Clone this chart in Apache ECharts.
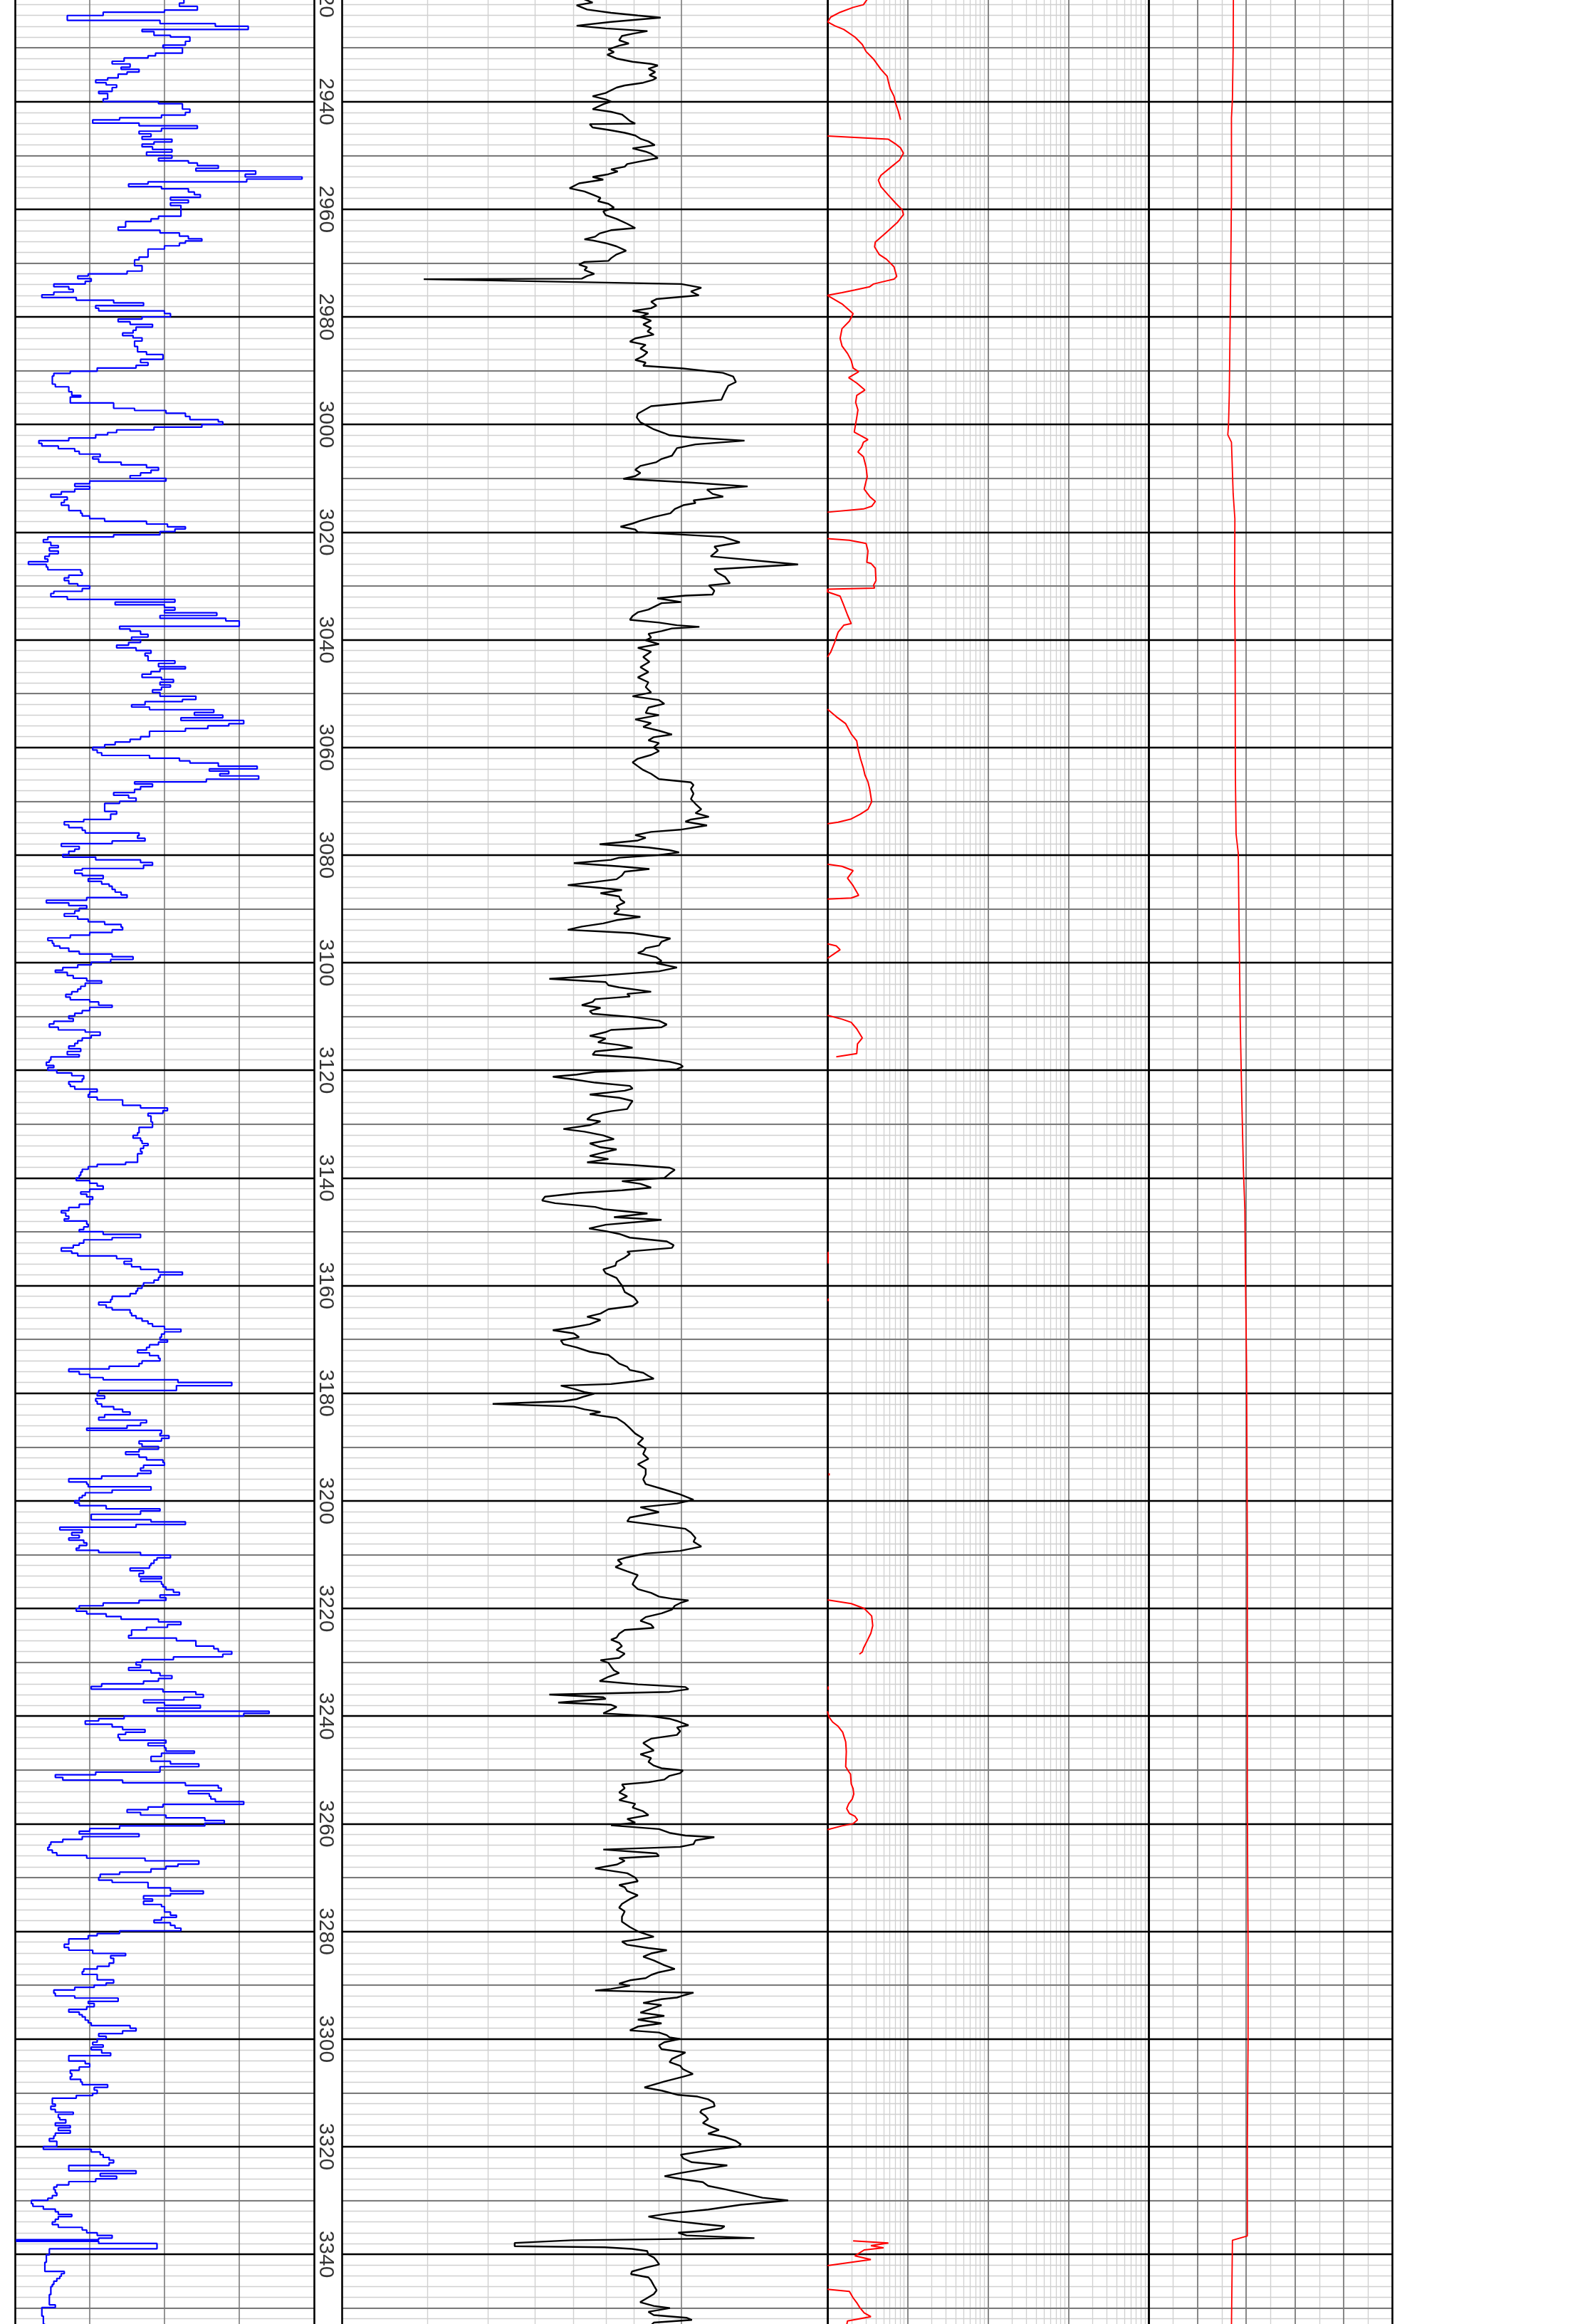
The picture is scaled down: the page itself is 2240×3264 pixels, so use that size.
<!DOCTYPE html>
<html>
<head>
<meta charset="utf-8">
<script src="https://cdn.jsdelivr.net/npm/echarts/dist/echarts.min.js"></script>
<style>html,body{margin:0;padding:0;background:#fff}#c{width:2240px;height:3264px}</style>
</head>
<body>
<div id="c"></div>
<script>
// ---------------- DATA ----------------
const DEPTH_MIN = 2920, DEPTH_MAX = 3360;
const DEPTH_LABELS = [2920,2940,2960,2980,3000,3020,3040,3060,3080,3100,3120,3140,3160,3180,3200,3220,3240,3260,3280,3300,3320,3340];

// Track 1 (blue, stepped) : depth of each step top and its value
const GR_DEPTH = [
2921.0,2921.7,2922.3,2923.0,2923.4,2924.0,2924.9,2925.5,2926.0,2926.6,
2927.0,2927.7,2928.0,2928.8,2929.5,2930.0,2931.0,2931.5,2931.9,2932.5,
2933.0,2933.6,2934.0,2934.5,2934.9,2935.6,2936.0,2936.5,2936.9,2937.4,
2938.1,2938.5,2939.5,2940.0,2940.4,2941.4,2942.0,2942.5,2943.0,2943.4,
2944.0,2944.5,2945.0,2945.5,2946.0,2946.5,2947.0,2947.5,2947.9,2948.4,
2948.9,2949.4,2950.0,2950.5,2951.0,2951.4,2951.9,2952.4,2952.9,2953.5,
2954.0,2954.4,2954.9,2955.3,2955.8,2956.2,2956.8,2957.3,2957.8,2958.3,
2958.8,2959.3,2961.3,2961.8,2962.3,2963.3,2963.9,2964.4,2965.0,2965.5,
2965.9,2966.3,2966.8,2967.4,2968.9,2969.4,2970.5,2971.5,2972.0,2972.4,
2972.9,2973.4,2973.9,2974.4,2974.9,2975.4,2975.9,2976.4,2976.9,2977.4,
2977.9,2978.4,2978.9,2979.4,2980.0,2980.4,2980.9,2981.4,2981.9,2982.5,
2983.0,2983.5,2983.9,2984.5,2985.5,2986.5,2987.0,2987.9,2988.5,2989.0,
2989.5,2990.1,2990.5,2991.0,2992.5,2993.0,2993.9,2994.6,2994.9,2996.0,
2997.0,2997.4,2997.9,2998.5,2999.1,2999.5,3000.0,3000.5,3001.0,3001.5,
3001.9,3002.5,3003.0,3003.5,3004.0,3004.5,3005.0,3005.5,3006.0,3006.4,
3007.0,3007.5,3008.0,3008.5,3009.0,3009.5,3010.0,3010.5,3011.0,3011.5,
3012.0,3012.5,3013.0,3013.5,3014.0,3014.5,3015.0,3016.0,3016.5,3017.0,
3017.5,3018.0,3018.5,3019.0,3019.4,3019.9,3020.5,3020.9,3021.4,3021.9,
3022.5,3022.9,3023.5,3024.0,3024.5,3025.0,3025.5,3026.0,3026.5,3027.0,
3027.5,3028.0,3028.5,3029.0,3029.6,3030.0,3030.5,3031.0,3031.4,3032.0,
3032.5,3033.0,3033.5,3034.0,3034.5,3035.0,3035.5,3036.0,3036.5,3037.5,
3038.0,3038.4,3039.0,3039.5,3040.0,3040.5,3041.0,3041.5,3042.0,3042.5,
3043.0,3043.9,3044.4,3045.0,3045.4,3045.9,3046.4,3047.0,3047.4,3047.9,
3048.4,3048.8,3049.3,3049.8,3050.5,3051.1,3051.5,3052.1,3052.5,3053.0,
3053.5,3054.0,3054.5,3055.0,3055.6,3056.0,3056.5,3057.0,3058.0,3058.5,
3059.0,3059.5,3060.0,3060.5,3061.0,3061.5,3062.0,3062.5,3062.9,3063.5,
3064.0,3064.4,3064.9,3065.3,3065.9,3066.4,3066.8,3067.3,3067.8,3068.4,
3068.9,3069.4,3070.0,3070.4,3071.9,3072.4,3073.4,3073.8,3074.4,3074.9,
3075.4,3075.9,3076.4,3076.9,3077.4,3077.9,3078.4,3078.9,3079.3,3079.9,
3080.4,3080.9,3081.4,3081.9,3082.5,3082.8,3083.4,3083.8,3084.4,3084.9,
3085.4,3085.8,3086.4,3086.9,3087.4,3087.9,3088.4,3088.9,3089.4,3089.9,
3090.4,3090.9,3091.4,3091.9,3092.4,3092.9,3093.4,3093.9,3094.4,3094.9,
3095.4,3095.9,3096.4,3096.9,3097.3,3097.9,3098.4,3098.9,3099.4,3099.9,
3100.4,3100.9,3101.4,3101.8,3102.4,3102.9,3103.4,3103.8,3104.4,3104.9,
3105.4,3105.9,3106.4,3106.9,3107.3,3107.9,3108.3,3108.9,3109.4,3109.9,
3110.4,3110.9,3111.4,3112.0,3112.5,3112.9,3113.5,3114.0,3114.5,3115.0,
3115.5,3116.0,3116.5,3117.1,3117.5,3118.1,3118.5,3119.1,3119.5,3120.0,
3120.5,3121.0,3121.6,3122.1,3122.6,3123.0,3123.5,3124.0,3124.5,3125.0,
3125.5,3126.5,3127.0,3127.5,3128.0,3128.5,3129.6,3130.6,3131.6,3132.1,
3132.6,3133.1,3133.6,3134.0,3134.5,3135.1,3135.5,3137.1,3137.5,3137.9,
3138.4,3138.9,3139.5,3140.0,3140.5,3141.0,3141.5,3142.1,3142.6,3143.0,
3143.5,3144.0,3144.9,3145.5,3146.1,3146.5,3147.1,3147.6,3148.0,3148.6,
3149.1,3149.6,3150.0,3150.5,3151.1,3151.5,3152.1,3152.5,3153.0,3153.6,
3154.0,3154.5,3155.0,3155.5,3156.0,3156.5,3157.0,3157.5,3158.0,3158.5,
3159.0,3159.5,3160.0,3160.5,3161.0,3161.5,3162.0,3162.6,3163.1,3163.6,
3164.1,3164.5,3165.1,3165.6,3166.1,3166.6,3167.1,3167.6,3168.1,3168.6,
3169.0,3169.6,3170.1,3170.5,3171.0,3171.5,3172.0,3172.5,3173.0,3173.5,
3174.0,3174.5,3175.0,3175.5,3176.0,3176.5,3177.1,3177.5,3178.0,3178.6,
3179.5,3180.0,3180.5,3181.0,3181.5,3182.0,3182.5,3183.0,3183.5,3184.0,
3184.5,3185.0,3185.5,3186.0,3186.5,3186.9,3187.5,3187.9,3188.4,3188.9,
3189.4,3189.9,3190.4,3190.9,3191.4,3191.9,3192.4,3192.9,3193.4,3193.9,
3194.4,3194.9,3195.4,3195.9,3196.5,3196.9,3197.4,3198.0,3198.5,3199.0,
3199.4,3200.0,3200.4,3200.9,3201.5,3201.9,3202.5,3203.5,3203.9,3204.4,
3204.9,3205.4,3205.9,3206.4,3206.9,3207.3,3207.8,3208.3,3208.8,3209.2,
3209.6,3210.1,3210.6,3211.0,3211.6,3212.0,3212.5,3213.0,3213.5,3214.1,
3214.5,3215.0,3215.5,3216.0,3216.5,3217.0,3217.5,3218.0,3218.5,3219.0,
3219.5,3220.0,3220.5,3221.0,3221.5,3222.0,3222.5,3223.0,3223.5,3224.0,
3225.0,3225.5,3226.0,3227.0,3227.5,3228.0,3228.5,3229.0,3229.5,3230.0,
3230.5,3231.0,3231.5,3232.0,3232.5,3233.0,3233.5,3234.0,3234.5,3235.0,
3235.5,3236.0,3236.5,3237.0,3237.5,3238.0,3238.5,3239.1,3239.5,3240.0,
3240.5,3240.9,3241.5,3242.0,3242.5,3243.0,3243.4,3244.0,3244.5,3245.0,
3245.5,3245.9,3246.5,3246.9,3247.5,3248.4,3248.9,3249.4,3250.4,3250.9,
3251.4,3251.9,3252.4,3252.9,3253.4,3253.9,3254.4,3254.9,3255.4,3255.9,
3256.4,3256.9,3257.4,3257.9,3258.4,3258.9,3259.4,3259.9,3260.4,3260.9,
3261.4,3261.9,3262.4,3262.9,3263.4,3263.9,3264.4,3264.9,3265.4,3265.9,
3266.4,3266.9,3267.5,3267.9,3268.4,3269.0,3269.4,3270.0,3270.5,3270.9,
3271.9,3272.5,3273.0,3273.4,3274.0,3274.4,3275.0,3275.4,3276.4,3277.0,
3277.4,3277.9,3278.4,3278.9,3279.4,3279.9,3280.4,3280.8,3281.4,3282.4,
3283.0,3283.5,3284.1,3284.5,3285.0,3285.9,3286.5,3287.0,3287.5,3288.0,
3289.0,3289.6,3290.0,3290.4,3290.9,3291.5,3292.0,3292.4,3293.0,3293.4,
3294.0,3294.5,3295.0,3295.5,3295.9,3296.5,3297.0,3297.5,3298.0,3298.5,
3299.0,3299.5,3300.0,3300.6,3301.1,3301.5,3302.0,3302.6,3303.1,3304.1,
3304.6,3305.2,3305.8,3306.4,3307.0,3307.5,3308.0,3308.5,3309.0,3309.5,
3310.1,3310.5,3311.0,3312.1,3312.5,3313.1,3313.6,3314.0,3314.6,3315.0,
3315.6,3316.1,3316.5,3317.0,3317.5,3318.0,3318.5,3319.0,3320.0,3320.5,
3321.0,3321.5,3322.0,3322.5,3323.0,3323.5,3324.5,3325.0,3325.5,3326.0,
3326.5,3327.1,3327.5,3328.0,3328.6,3329.1,3329.6,3330.0,3330.6,3331.1,
3331.6,3332.1,3332.6,3333.0,3333.5,3334.0,3334.5,3335.0,3335.5,3336.0,
3336.5,3337.0,3337.3,3337.6,3338.0,3339.0,3340.1,3341.5,3343.2,3343.6,
3344.1,3344.5,3345.0,3345.6,3346.0,3347.5,3349.4,3349.9,3351.5,3353.0];
const GR_VALUE = [
113,110,122,100,59,35,97,134,156,85,
93,104,117,114,99,112,94,89,73,65,
77,71,83,75,69,62,54,61,68,65,
56,62,59,96,112,117,114,98,70,52,
83,122,98,83,91,85,105,93,85,92,
105,88,105,96,116,122,136,121,161,154,
192,155,89,76,98,116,120,124,104,116,
104,111,96,91,74,69,97,110,116,125,
114,110,100,89,83,80,85,75,49,42,
51,47,26,36,39,26,18,41,66,86,
54,56,100,104,85,69,77,92,81,79,
72,79,85,80,82,88,99,84,89,81,
55,37,26,25,27,36,38,44,37,66,
80,101,114,117,136,139,125,93,68,62,
54,36,16,18,29,40,43,57,52,56,
71,88,96,91,84,77,101,50,40,50,
40,31,24,35,33,31,36,44,45,50,
60,88,102,114,107,97,66,22,19,24,
29,23,29,23,20,22,9,21,22,44,
45,36,33,36,42,50,45,26,24,35,
107,67,100,107,100,135,97,141,150,70,
77,84,89,78,84,76,68,81,91,87,
89,107,96,114,97,91,85,98,106,97,
104,98,92,97,121,112,87,78,90,133,
120,139,111,153,143,129,114,90,84,77,
67,60,52,55,58,90,110,117,136,162,
130,143,137,163,128,80,92,84,80,66,
76,81,70,60,68,64,46,33,36,45,
47,83,82,87,65,31,43,40,36,32,
54,84,92,86,45,40,45,59,49,58,
63,65,67,71,75,48,21,36,48,43,
40,33,42,49,60,71,72,65,50,37,
22,25,26,30,36,43,65,79,64,51,
42,32,27,35,39,48,58,47,44,42,
38,34,37,50,56,65,50,45,40,36,
39,26,23,29,47,57,51,45,42,40,
36,44,35,43,24,23,21,26,22,28,
38,46,45,36,37,40,55,50,49,55,
72,84,102,99,89,91,92,83,82,79,
84,85,89,86,84,85,82,74,55,49,
45,44,43,41,50,55,59,50,44,48,
52,50,43,36,31,34,36,33,48,49,
46,43,59,84,65,46,43,39,31,38,
42,68,78,73,78,84,96,112,97,96,
93,86,85,82,81,77,65,64,56,61,
65,77,78,81,85,89,92,100,111,100,
98,97,102,96,90,88,82,90,96,97,
85,83,63,36,43,50,59,109,145,108,
56,55,60,54,55,58,66,72,77,60,
56,88,84,75,48,98,97,103,98,83,
85,96,83,74,83,88,99,100,86,84,
91,82,58,36,48,49,91,65,47,45,
43,40,43,61,97,84,51,91,114,81,
30,45,38,43,36,46,48,43,41,56,
84,104,95,93,91,90,77,86,83,98,
84,98,99,101,106,110,97,101,83,59,
43,41,48,61,71,96,111,102,88,78,
76,108,121,133,136,145,139,106,85,81,
84,76,91,97,105,96,86,58,51,99,
121,126,113,86,100,124,95,170,153,73,
56,47,65,72,87,74,69,70,101,89,
100,101,120,98,91,104,123,97,54,27,
32,72,114,136,138,116,130,131,134,153,
99,89,75,84,101,127,140,127,70,50,
43,83,45,32,24,23,22,25,28,48,
87,123,109,101,91,70,57,56,65,89,
104,126,104,86,92,86,98,100,104,108,
98,93,104,107,111,70,55,49,36,33,
36,52,74,64,66,63,55,46,45,55,
66,61,53,40,26,27,40,69,49,53,
48,36,43,45,47,49,51,77,81,72,
56,61,55,52,59,51,58,64,36,47,
50,43,37,38,37,44,45,62,53,55,
52,41,25,27,24,27,39,29,30,34,
27,37,29,37,27,26,23,28,19,51,
57,59,63,66,63,36,81,57,68,54,
36,28,26,27,28,25,22,11,12,19,
27,29,38,29,27,25,29,45,48,55,
65,56,1,56,95,23,21,20,33,31,
30,28,26,25,24,23,27,18,19,20];

// Track 2 (black, log 2-20)
const RT_DEPTH = [
2921.0,2921.6,2922.1,2922.9,2923.5,2924.0,2924.4,2925.2,2925.9,2926.4,
2926.9,2927.4,2927.8,2928.6,2929.2,2929.6,2930.3,2930.8,2931.3,2932.0,
2932.6,2933.0,2933.3,2933.9,2934.5,2935.1,2935.6,2936.0,2936.5,2937.0,
2937.4,2938.0,2938.4,2939.0,2939.6,2940.0,2940.5,2941.4,2941.9,2942.4,
2943.0,2943.6,2944.1,2944.2,2944.8,2945.3,2945.8,2946.3,2946.9,2947.4,
2948.1,2948.7,2949.3,2949.7,2950.5,2951.2,2951.6,2952.1,2952.6,2953.0,
2953.5,2954.0,2954.5,2955.2,2956.1,2956.7,2957.3,2957.9,2958.5,2959.0,
2959.7,2960.4,2961.1,2961.8,2962.7,2963.5,2963.9,2964.5,2965.1,2965.6,
2965.8,2966.3,2966.9,2967.7,2968.4,2969.1,2969.6,2969.8,2970.3,2970.8,
2971.3,2972.0,2972.4,2972.9,2973.0,2973.9,2974.6,2975.3,2976.0,2976.7,
2977.2,2977.9,2978.4,2978.9,2979.4,2980.0,2980.7,2981.4,2982.1,2982.7,
2983.3,2984.0,2984.6,2985.2,2985.9,2986.6,2987.3,2988.0,2988.5,2989.1,
2989.6,2990.4,2991.1,2992.1,2992.8,2994.0,2995.4,2995.9,2996.6,2997.3,
2998.0,2998.7,2999.6,3000.1,3000.9,3001.6,3002.0,3002.4,3003.0,3003.7,
3004.4,3005.0,3005.8,3006.4,3007.0,3007.7,3008.4,3009.0,3009.6,3010.1,
3010.8,3011.5,3012.1,3012.9,3013.4,3014.1,3014.6,3015.0,3015.7,3016.5,
3017.2,3017.9,3018.4,3019.0,3019.5,3020.0,3020.5,3020.9,3021.9,3022.7,
3023.4,3024.5,3026.0,3026.9,3027.6,3028.3,3029.5,3029.9,3030.9,3031.6,
3031.8,3032.3,3033.0,3033.2,3034.4,3034.9,3035.6,3036.3,3036.8,3037.3,
3037.6,3037.9,3038.4,3038.9,3039.6,3040.1,3040.8,3041.5,3042.2,3043.2,
3044.1,3045.1,3046.0,3047.0,3047.9,3048.8,3049.8,3050.5,3051.2,3051.9,
3052.6,3053.6,3054.0,3054.8,3055.5,3056.2,3056.9,3057.6,3058.1,3058.7,
3059.2,3060.0,3060.7,3061.4,3062.1,3062.8,3063.5,3064.2,3064.9,3065.9,
3066.5,3067.0,3067.7,3068.6,3069.6,3070.5,3071.5,3072.2,3072.9,3073.4,
3073.8,3074.5,3075.3,3075.7,3076.3,3076.8,3077.3,3078.0,3078.6,3079.1,
3079.5,3080.0,3080.5,3080.9,3081.5,3082.1,3082.6,3083.1,3083.8,3084.5,
3085.0,3085.6,3086.1,3086.5,3087.1,3087.7,3088.3,3088.8,3089.5,3090.2,
3090.9,3091.5,3092.1,3092.7,3093.3,3093.9,3094.5,3095.2,3095.5,3096.1,
3096.8,3097.3,3097.8,3098.2,3099.0,3099.7,3100.1,3100.9,3101.6,3102.3,
3103.0,3103.6,3104.2,3104.6,3105.4,3105.8,3106.3,3106.8,3107.3,3107.9,
3108.4,3109.0,3109.5,3110.1,3110.8,3111.5,3112.0,3112.5,3112.9,3113.6,
3114.1,3114.8,3115.3,3115.8,3116.5,3117.1,3117.7,3118.4,3118.9,3119.3,
3119.8,3120.3,3120.8,3121.2,3121.7,3122.3,3122.9,3123.4,3123.8,3124.5,
3125.1,3125.7,3126.4,3127.2,3127.6,3128.3,3129.1,3129.5,3130.2,3130.9,
3131.4,3132.1,3132.8,3133.6,3134.3,3134.7,3135.4,3135.9,3136.5,3137.1,
3137.6,3138.1,3138.5,3139.2,3140.0,3140.6,3141.1,3141.8,3142.3,3142.8,
3143.5,3144.2,3144.7,3145.4,3145.8,3146.6,3147.3,3147.8,3148.7,3149.4,
3149.9,3150.4,3151.1,3151.8,3152.5,3153.0,3153.7,3154.1,3154.8,3155.6,
3156.3,3157.0,3157.7,3158.6,3159.3,3160.0,3161.2,3162.2,3163.1,3163.8,
3164.4,3165.2,3165.8,3166.4,3167.2,3167.8,3168.3,3168.9,3169.6,3170.2,
3170.9,3171.5,3172.3,3172.9,3173.7,3174.5,3175.1,3175.7,3176.2,3176.8,
3177.3,3177.8,3178.3,3178.6,3179.2,3179.8,3180.1,3180.6,3181.1,3181.5,
3182.0,3182.5,3183.0,3183.5,3183.9,3184.6,3185.6,3186.5,3187.5,3188.4,
3189.4,3190.3,3191.3,3192.2,3193.2,3194.1,3195.1,3196.0,3196.9,3197.9,
3198.8,3199.8,3200.5,3201.2,3202.1,3203.1,3203.8,3204.5,3205.2,3205.9,
3206.9,3207.6,3208.5,3209.3,3209.8,3210.5,3211.0,3211.7,3212.3,3213.1,
3213.8,3214.5,3215.5,3216.4,3217.1,3217.8,3218.2,3218.5,3219.0,3219.5,
3220.2,3220.9,3221.6,3222.3,3223.0,3223.6,3224.0,3224.7,3225.4,3225.8,
3226.4,3227.0,3227.7,3228.4,3229.2,3229.6,3230.1,3230.8,3231.5,3232.0,
3232.7,3233.5,3234.1,3234.6,3235.0,3235.5,3236.0,3236.5,3236.8,3237.5,
3237.9,3238.3,3239.5,3240.0,3240.5,3240.9,3241.7,3242.1,3242.8,3243.5,
3244.2,3245.0,3245.7,3246.4,3247.1,3247.8,3248.5,3249.2,3249.7,3250.1,
3250.6,3251.1,3251.8,3252.3,3252.7,3253.4,3254.2,3254.9,3255.6,3256.3,
3257.0,3257.7,3258.4,3259.1,3259.8,3260.3,3261.0,3261.7,3262.2,3262.5,
3263.1,3263.8,3264.3,3264.8,3265.5,3266.0,3266.4,3266.9,3267.6,3268.3,
3269.2,3270.0,3270.7,3271.4,3271.8,3272.5,3273.3,3274.0,3274.9,3275.6,
3276.3,3277.3,3278.2,3279.2,3280.0,3280.5,3281.0,3281.5,3281.9,3282.5,
3283.1,3283.5,3284.1,3284.7,3285.4,3286.3,3287.0,3287.6,3288.1,3288.7,
3289.1,3289.7,3290.1,3290.7,3291.0,3291.4,3291.8,3292.3,3292.6,3293.3,
3293.7,3294.4,3295.1,3295.7,3296.4,3297.1,3297.7,3298.4,3298.8,3299.3,
3299.7,3300.0,3300.6,3301.2,3301.9,3302.5,3303.0,3303.7,3304.3,3305.0,
3305.6,3306.5,3307.0,3307.9,3309.0,3309.6,3310.4,3310.7,3311.2,3311.8,
3312.5,3313.2,3313.6,3314.3,3314.9,3315.6,3316.3,3316.9,3317.6,3318.2,
3318.9,3319.6,3320.0,3320.7,3321.5,3322.2,3322.9,3323.5,3324.2,3324.9,
3325.5,3326.0,3326.6,3327.3,3327.9,3328.8,3329.5,3330.0,3330.8,3331.7,
3332.4,3333.0,3333.5,3333.9,3334.4,3334.8,3335.2,3335.7,3336.0,3336.5,
3337.0,3337.4,3337.9,3338.5,3338.7,3339.0,3339.4,3340.1,3340.6,3341.2,
3341.9,3342.5,3343.2,3343.7,3344.3,3344.9,3345.8,3346.7,3347.4,3348.3,
3348.9,3349.6,3350.0,3350.7,3351.3,3351.8,3352.2,3352.7,3353.5];
const RT_VALUE = [
6.32,6.57,6.09,6.40,7.17,8.14,9.07,7.17,6.09,6.99,
8.52,7.94,7.55,7.45,7.80,7.45,7.08,7.27,7.04,7.36,
7.94,8.67,8.95,8.56,8.84,8.60,8.89,8.73,8.35,7.65,
7.36,7.13,6.99,6.57,6.99,7.17,6.91,6.57,7.17,7.55,
7.70,7.84,8.04,6.48,6.57,7.13,7.65,8.04,8.24,8.56,
8.82,7.94,8.45,8.67,8.95,8.14,7.74,7.65,7.17,7.40,
7.08,6.57,6.91,6.16,5.89,6.32,6.57,6.82,6.74,7.08,
7.27,6.91,6.99,7.36,7.74,8.04,7.17,6.79,6.65,6.32,
6.57,6.99,7.36,7.70,7.36,7.17,7.08,6.32,6.16,6.40,
6.32,6.62,6.40,6.24,2.95,10.0,11.0,10.47,10.87,8.89,
8.67,8.89,8.67,7.94,8.56,8.24,8.67,8.35,8.67,8.52,
8.78,8.04,7.84,8.45,8.24,8.52,8.35,8.04,8.45,8.35,
10.08,12.18,12.8,12.96,12.5,12.3,12.1,10.47,8.67,8.40,
8.14,8.10,8.24,8.45,8.78,9.23,9.46,10.47,13.5,10.7,
9.8,9.7,9.57,9.11,8.89,8.24,8.04,8.24,8.04,7.6,
10.47,13.7,11.3,11.6,12.2,10.6,10.7,10.1,9.7,9.5,
8.78,8.24,7.94,7.5,8.04,8.14,10.2,12.2,13.2,11.7,
11.9,11.5,17.4,11.7,11.9,12.3,12.6,11.4,11.7,11.6,
10.2,8.93,10.0,9.11,8.56,8.14,7.94,7.84,9.0,9.8,
10.9,9.57,9.11,8.56,8.67,8.45,9.0,8.14,8.67,8.35,
8.6,8.24,8.56,8.14,8.56,8.45,8.67,7.94,9.0,9.23,
8.56,8.45,9.0,8.04,8.67,8.35,9.0,9.57,8.78,8.56,
9.0,8.78,9.0,8.67,8.14,7.94,8.14,8.35,8.67,9.0,
10.47,10.6,10.47,10.6,10.47,10.7,11.0,10.7,11.4,10.47,
10.2,11.3,9.95,8.67,8.04,8.45,8.14,6.79,8.56,9.46,
9.9,9.0,7.45,7.17,6.01,7.45,8.6,7.65,7.55,7.36,
6.65,5.84,6.82,7.55,6.82,7.45,7.5,7.65,7.36,7.45,
7.27,8.24,7.36,6.91,6.24,5.84,7.94,9.0,9.5,9.11,
9.0,8.45,8.35,8.14,8.89,9.11,8.89,9.8,9.0,7.08,
5.35,6.99,7.08,7.45,8.67,7.74,7.84,6.65,6.57,6.24,
6.82,6.48,6.57,7.94,9.0,9.34,9.11,7.17,6.99,6.48,
6.99,6.74,7.45,7.94,6.65,6.57,8.14,9.46,9.95,10.08,
9.8,6.65,6.09,5.44,6.01,6.65,7.84,7.94,7.65,6.48,
7.45,7.94,7.84,7.74,7.17,6.57,6.4,6.82,6.48,5.72,
6.32,6.91,7.27,6.48,6.82,7.36,6.82,6.48,7.08,6.4,
7.94,9.46,9.7,9.46,9.23,7.55,8.24,8.67,7.55,6.16,
5.24,5.17,5.5,6.65,6.91,8.52,7.27,9.11,6.99,6.46,
6.99,7.45,7.84,9.34,9.65,9.57,7.74,7.84,7.65,7.36,
7.32,6.91,6.99,7.36,7.45,7.55,7.65,8.0,8.14,7.94,
7.08,6.82,6.4,6.82,6.48,5.94,5.44,6.01,6.16,5.65,
5.72,6.09,6.48,7.08,7.27,7.45,7.74,7.84,8.35,8.56,
8.78,8.04,7.17,5.65,6.01,6.32,6.62,6.32,6.09,5.72,
4.09,6.01,6.32,6.82,6.48,7.36,7.65,7.84,8.04,8.35,
8.14,8.45,8.35,8.56,8.14,8.45,8.45,8.35,8.45,9.23,
9.95,10.6,9.8,8.24,9.0,7.84,7.74,8.89,10.2,10.47,
10.7,10.6,11.0,9.95,8.45,7.74,7.4,7.55,7.32,7.74,
8.14,8.04,7.94,8.14,8.67,9.0,9.57,10.35,9.95,9.7,
9.57,9.11,8.45,8.24,8.67,8.78,7.65,7.45,7.36,7.17,
7.45,7.55,7.36,7.65,7.45,6.82,7.08,7.17,7.27,7.45,
7.08,6.79,8.14,10.2,10.35,9.46,5.35,6.91,6.99,5.58,
7.17,7.36,6.91,8.67,9.46,9.8,10.35,9.8,9.95,9.8,
8.67,8.35,8.56,8.78,8.24,8.67,8.56,8.78,9.11,10.08,
9.95,9.46,9.23,8.56,7.55,7.65,7.45,7.74,7.45,8.04,
7.94,8.35,8.56,7.74,8.04,7.17,9.0,9.46,10.2,11.7,
10.7,10.6,9.95,6.91,8.89,9.0,7.45,7.65,7.36,6.65,
7.74,8.04,8.14,7.45,7.65,7.74,8.14,7.84,7.55,7.45,
7.65,7.55,7.55,7.84,8.14,8.45,8.78,8.14,7.55,7.74,
8.56,9.34,8.67,8.35,8.78,9.23,9.7,9.0,8.67,8.45,
7.84,7.45,7.84,7.17,6.65,10.6,10.2,9.8,9.11,8.35,
9.11,8.67,8.24,9.23,8.14,9.11,8.14,7.84,9.0,9.34,
9.46,9.95,9.23,9.0,9.11,10.2,9.95,9.57,9.46,9.95,
10.08,10.57,10.1,9.24,8.4,9.12,9.86,10.8,11.36,11.66,
11.72,11.02,10.94,11.22,11.36,11.08,11.51,11.96,11.36,12.28,
12.93,13.27,13.1,11.36,9.98,10.1,10.52,12.44,11.08,9.98,
9.24,9.98,11.08,11.36,12.28,13.6,14.7,16.6,13.27,11.36,
9.48,8.56,9.12,9.86,11.08,12.28,12.1,11.08,9.86,10.25,
14.15,5.96,4.54,4.54,6.96,7.92,8.51,8.56,8.78,8.9,
9.01,8.45,7.92,7.88,8.56,8.67,8.78,8.9,8.78,8.45,
8.23,8.78,9.48,8.56,8.78,10.25,10.52,8.78,8.6];

// Track 3 (red, log 1-10000); null = no reading (gap)
const RX_DEPTH = [
2921.0,2922.0,2922.5,2923.4,2924.3,2925.2,2925.9,2926.6,2928.0,2929.4,2930.7,2932.1,2934.0,2935.3,2936.3,2937.6,2939.0,2940.4,2941.8,2943.4,2945.0,
2946.4,2947.0,2947.9,2948.6,2949.6,2950.9,2952.3,2953.7,2954.6,2955.8,2957.4,2958.9,2960.1,2961.0,2962.4,2964.3,2966.1,2967.0,2968.4,2969.3,2970.7,2972.5,2973.0,2973.4,2973.9,2974.4,2975.0,2975.5,2976.0,
2977.6,2979.4,2980.8,2982.2,2984.0,2985.4,2986.8,2988.1,2989.5,2990.2,2991.3,2992.3,2993.6,2994.6,2995.9,2997.3,2998.7,3001.4,3002.8,3003.3,3004.2,3005.1,3006.0,3007.9,3009.7,3012.0,3013.4,3014.3,3015.2,3015.7,3016.3,3018.0,
3021.2,3021.5,3022.1,3023.5,3025.6,3025.8,3026.7,3029.0,3029.9,3030.4,3030.6,3031.1,3031.9,3033.6,3035.4,3037.0,3037.3,3038.6,3040.5,3042.3,3043.2,3045.0,
3052.9,3054.3,3055.6,3057.5,3058.8,3060.2,3062.1,3063.9,3065.1,3066.4,3067.8,3070.1,3071.5,3072.4,3073.3,3073.9,3074.2,3078.0,
3081.7,3082.1,3082.9,3084.3,3085.7,3087.5,3088.0,3088.2,3092.0,
3096.5,3096.9,3097.6,3098.3,3099.2,3104.0,
3109.8,3110.5,3111.1,3112.3,3114.0,3115.1,3116.9,3117.5,3130.0,
3153.7,3155.9,3158.0,3162.4,3162.9,3180.0,3194.9,3195.3,3200.0,
3218.4,3219.1,3220.0,3221.4,3223.2,3224.6,3226.0,3227.4,3228.1,3228.5,3230.0,
3234.5,3235.1,3237.0,
3239.1,3240.2,3241.1,3241.9,3243.0,3244.8,3246.6,3249.4,3250.3,3250.8,3252.6,3253.5,3254.5,3255.4,3256.3,3257.2,3258.1,3258.6,3259.3,3260.0,3260.4,3261.1,3300.0,
3337.5,3337.9,3338.4,3338.8,3339.2,3340.3,3341.0,3342.1,3344.0,
3346.5,3346.9,3348.1,3349.0,3349.9,3350.9,3351.6,3352.4,3353.5];
const RX_VALUE = [
3.13,2.81,2.09,1.44,1.10,1.01,1.23,1.60,2.20,2.72,3.03,3.75,4.64,5.55,5.75,6.05,6.75,7.1,7.65,8.15,null,
1.0,5.75,7.1,8.15,8.85,7.9,6.05,4.64,4.31,4.64,5.75,7.1,8.55,8.85,7.5,5.45,3.95,3.87,4.41,5.45,6.75,7.3,6.75,5.15,3.75,3.37,2.2,1.52,1.0,
1.52,2.09,1.88,1.52,1.44,1.52,1.78,1.98,2.09,2.45,1.84,2.32,2.93,2.32,2.25,2.4,2.32,2.16,3.2,2.81,2.67,2.4,2.81,3.03,3.13,2.87,3.37,3.95,3.56,2.81,1.0,null,
1.0,1.88,3.03,3.2,3.1,3.48,3.95,4.03,3.75,3.87,1.0,1.0,1.44,1.6,1.78,1.98,1.6,1.36,1.23,1.10,1.0,null,
1.0,1.29,1.69,1.98,2.32,2.4,2.58,2.81,2.93,3.2,3.37,3.56,3.2,2.58,1.98,1.36,1.0,null,
1.0,1.52,2.09,1.78,2.09,2.45,1.98,1.0,null,
1.0,1.29,1.44,1.23,1.0,null,
1.0,1.52,1.98,2.32,2.72,2.37,2.32,1.29,null,
1.02,1.02,null,1.02,1.02,null,1.05,1.05,null,
1.0,1.98,2.87,3.56,3.67,3.48,3.13,2.81,2.72,2.5,null,
1.02,1.02,null,
1.0,1.05,1.16,1.36,1.55,1.69,1.72,1.69,1.84,1.94,1.98,2.09,2.13,2.04,1.84,1.74,1.88,2.2,2.37,2.09,1.52,1.0,null,
2.09,5.75,3.48,5.0,2.87,2.2,3.48,1.0,null,
1.0,1.88,2.09,2.32,2.53,2.87,3.48,1.78,1.72];

// Track 4 (red, linear 6-16)
const CAL_DEPTH = [2920.0,2930.0,2939.5,2943.0,2957.8,2976.2,2994.6,3000.0,3001.9,3003.3,3012.9,3017.5,3030.4,3040.5,3065.0,3076.1,3079.7,3092.6,3111.0,3124.7,3138.5,3145.9,3156.9,3175.2,3209.0,3254.9,3282.5,3300.8,3319.2,3336.6,3337.4,3353.5];
const CAL_VALUE = [9.48,9.47,9.44,9.40,9.40,9.36,9.31,9.28,9.25,9.40,9.47,9.54,9.53,9.55,9.56,9.59,9.68,9.71,9.76,9.82,9.89,9.95,9.97,10.02,10.05,10.05,10.08,10.08,10.05,10.05,9.44,9.40];

// Scale ticks / gridline positions
const T1_LINES = [50, 100, 150];
const T2_MINOR = [3, 4, 5, 6, 7, 8, 9], T2_MAJOR = [10];
const T3_DECADES = [1, 10, 100, 1000], T3_MAJOR = [10, 100, 1000];
const T4_MINOR = [7, 9, 11, 13, 15], T4_MAJOR = [8, 10, 12, 14];

// ---------------- LAYOUT / STYLE ----------------
const GRID_TOP = -8.5, GRID_H = 3325.7;
const TRACKS = [
  {left: 21, width: 420},     // 0 blue
  {left: 441, width: 39},     // 1 depth
  {left: 480, width: 682},    // 2 black log
  {left: 1162, width: 451},   // 3 red log
  {left: 1613, width: 342.5}  // 4 red linear
];
const XRANGE = [
  {type: 'value', min: 0, max: 200},
  {type: 'value', min: 0, max: 1},
  {type: 'log', min: 2, max: 20},
  {type: 'log', min: 1, max: 10000},
  {type: 'value', min: 6, max: 16}
];
const HSTYLES = [
  {interval: 2, color: '#d0d0d0', width: 1.4, z: 0},
  {interval: 10, color: '#7a7a7a', width: 2, z: 3},
  {interval: 20, color: '#000000', width: 2.4, z: 4}
];
const LIGHT = '#d0d0d0', MID = '#7a7a7a';

const grid = TRACKS.map(t => ({left: t.left, width: t.width, top: GRID_TOP, height: GRID_H,
  containLabel: false, outerBoundsMode: 'none', show: false}));

const xAxis = XRANGE.map((r, g) => Object.assign({gridIndex: g, show: false, position: 'top'}, r,
  r.type === 'log' ? {logBase: 10} : {}));

const yAxis = [];
const yBase = {};
[0, 2, 3, 4].forEach(g => {
  yBase[g] = yAxis.length;
  HSTYLES.forEach(s => yAxis.push({
    gridIndex: g, type: 'value', inverse: true, min: DEPTH_MIN, max: DEPTH_MAX, interval: s.interval, z: s.z,
    axisLine: {show: false}, axisTick: {show: false}, axisLabel: {show: false},
    splitLine: {show: true, lineStyle: {color: s.color, width: s.width, type: 'solid'}}
  }));
});
yBase[1] = yAxis.length;
yAxis.push({gridIndex: 1, type: 'value', inverse: true, min: DEPTH_MIN, max: DEPTH_MAX, show: false});

function vlines(g, values, color, width, z) {
  return {
    type: 'line', xAxisIndex: g, yAxisIndex: yBase[g], data: [[XRANGE[g].min, DEPTH_MIN]],
    showSymbol: false, symbol: 'none', lineStyle: {opacity: 0}, silent: true, animation: false, z: 1,
    markLine: {
      silent: true, animation: false, symbol: ['none', 'none'], z: z, label: {show: false},
      emphasis: {disabled: true}, lineStyle: {color: color, width: width, type: 'solid'},
      data: values.map(v => ({xAxis: v}))
    }
  };
}
function pairs(ds, vs) {
  const out = [];
  const n = Math.min(ds.length, vs.length);
  for (let i = 0; i < n; i++) out.push([vs[i] === null ? '-' : vs[i], ds[i]]);
  return out;
}
function steps(ds, vs, endDepth) {
  const out = [];
  const n = Math.min(ds.length, vs.length);
  for (let i = 0; i < n; i++) {
    const d1 = i + 1 < n ? ds[i + 1] : endDepth;
    out.push([vs[i], ds[i]], [vs[i], d1]);
  }
  return out;
}
const T3_MINOR = [];
T3_DECADES.forEach(d => { for (let m = 2; m <= 9; m++) T3_MINOR.push(m * d); });

const series = [
  vlines(0, T1_LINES, MID, 1.6, 2),
  vlines(2, T2_MINOR, LIGHT, 1.4, 1),
  vlines(2, T2_MAJOR, MID, 1.6, 2),
  vlines(3, T3_MINOR, LIGHT, 1.3, 1),
  vlines(3, T3_MAJOR, MID, 1.8, 2),
  vlines(4, T4_MINOR, LIGHT, 1.4, 1),
  vlines(4, T4_MAJOR, MID, 1.8, 2),
  vlines(0, [0, 200], '#000', 2.6, 5),
  vlines(2, [2, 20], '#000', 2.6, 5),
  vlines(3, [1, 10000], '#000', 2.6, 5),
  vlines(4, [6, 16], '#000', 2.6, 5),
  {
    type: 'line', xAxisIndex: 0, yAxisIndex: yBase[0], data: steps(GR_DEPTH, GR_VALUE, 3353.5),
    showSymbol: false, symbol: 'none', lineStyle: {color: '#0000ff', width: 2.2}, z: 6, silent: true, animation: false
  },
  {
    type: 'line', xAxisIndex: 2, yAxisIndex: yBase[2], data: pairs(RT_DEPTH, RT_VALUE),
    showSymbol: false, symbol: 'none', lineStyle: {color: '#000000', width: 2.4}, z: 6, silent: true, animation: false
  },
  {
    type: 'line', xAxisIndex: 3, yAxisIndex: yBase[3], data: pairs(RX_DEPTH, RX_VALUE), connectNulls: false,
    showSymbol: false, symbol: 'none', lineStyle: {color: '#ff0000', width: 2}, z: 6, silent: true, animation: false
  },
  {
    type: 'line', xAxisIndex: 4, yAxisIndex: yBase[4], data: pairs(CAL_DEPTH, CAL_VALUE),
    showSymbol: false, symbol: 'none', lineStyle: {color: '#ff0000', width: 1.8}, z: 6, silent: true, animation: false
  },
  {
    type: 'scatter', xAxisIndex: 1, yAxisIndex: yBase[1], data: DEPTH_LABELS.map(d => [0.41, d]),
    symbolSize: 1, itemStyle: {color: 'rgba(0,0,0,0)'}, silent: true, animation: false, z: 6,
    label: {
      show: true, position: 'inside', rotate: -90, color: '#000',
      fontSize: 30, fontFamily: "'Liberation Sans Narrow', 'Liberation Sans', Arial, sans-serif",
      formatter: p => String(p.value[1])
    }
  }
];

const chart = echarts.init(document.getElementById('c'), null, {renderer: 'canvas', width: 2240, height: 3264});
chart.setOption({
  animation: false,
  backgroundColor: '#ffffff',
  grid: grid,
  xAxis: xAxis,
  yAxis: yAxis,
  series: series
});
</script>
</body>
</html>
